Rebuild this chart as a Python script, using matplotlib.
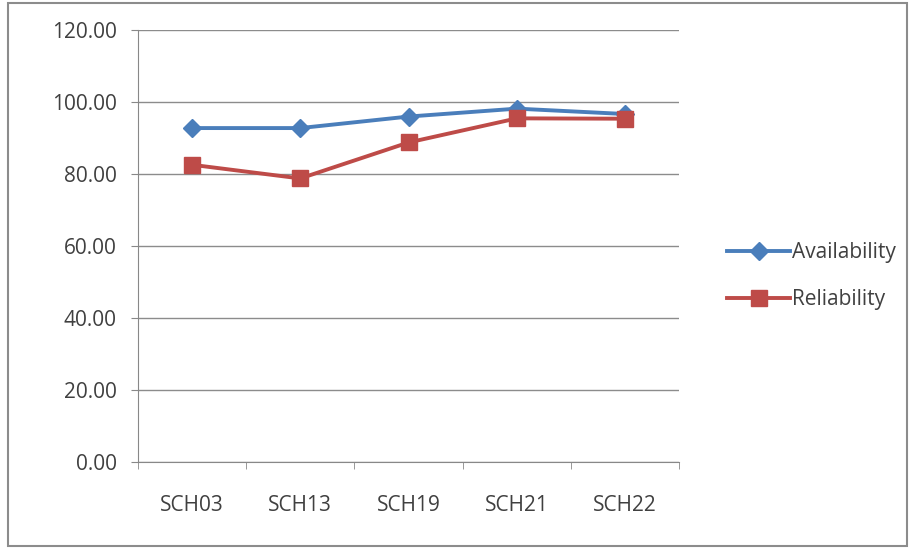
import matplotlib
matplotlib.use("Agg")
import matplotlib.pyplot as plt
from matplotlib.patches import Rectangle
from matplotlib.ticker import FixedLocator, NullFormatter

categories = ["SCH03", "SCH13", "SCH19", "SCH21", "SCH22"]
availability = [92.8, 92.8, 96.0, 98.2, 96.7]
reliability = [82.6, 78.8, 88.8, 95.5, 95.4]
yticks = [0, 20, 40, 60, 80, 100, 120]

plt.rcParams['font.family'] = ['Open Sans', 'DejaVu Sans']

fig = plt.figure(figsize=(9.12, 5.49), dpi=100)
fig.patches.append(Rectangle((0.009, 0.005), 0.986, 0.99, transform=fig.transFigure,
                             fill=False, edgecolor='#8c8c8c', linewidth=1.5))
ax = fig.add_axes([0.151, 0.1585, 0.594, 0.7865])

x = list(range(len(categories)))
ax.plot(x, availability, color='#4A7EBB', linewidth=2.8, marker='D', markersize=9,
        label='Availability')
ax.plot(x, reliability, color='#BE4B48', linewidth=2.8, marker='s', markersize=12,
        label='Reliability')

ax.set_xlim(-0.5, len(categories) - 0.5)
ax.set_ylim(0, 120)
ax.set_yticks(yticks)
ax.set_yticklabels([f"{v:.2f}" for v in yticks], fontsize=15, color='#404040')
ax.set_xticks(x)
ax.set_xticklabels(categories, fontsize=15, color='#404040')
ax.xaxis.set_minor_locator(FixedLocator([i - 0.5 for i in range(len(categories) + 1)]))
ax.xaxis.set_minor_formatter(NullFormatter())
ax.tick_params(axis='x', which='major', length=0, pad=24)
ax.tick_params(axis='x', which='minor', length=5, color='#888888', direction='out')
ax.tick_params(axis='y', length=5, color='#888888', direction='out', pad=10)
ax.grid(axis='y', color='#8c8c8c', linewidth=1)
ax.set_axisbelow(True)
for s in ['top', 'right']:
    ax.spines[s].set_visible(False)
ax.spines['left'].set_color('#888888')
ax.spines['bottom'].set_color('#888888')

fig.legend(loc='center left', bbox_to_anchor=(0.777, 0.497), frameon=False, fontsize=15,
           handlelength=3, handletextpad=0.1, labelspacing=1.25, labelcolor='#404040')

fig.savefig('out.png', dpi=100)
